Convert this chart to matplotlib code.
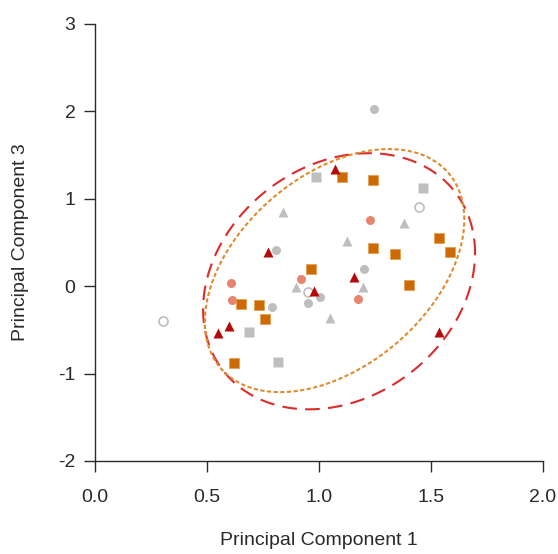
import numpy as np
import matplotlib.pyplot as plt

plt.rcParams['font.family'] = ['Liberation Sans', 'DejaVu Sans']
plt.rcParams['axes.unicode_minus'] = False

# PCA scores (PC1, PC3) by group
grey_circ_x = [1.246, 0.808, 1.201, 1.005, 0.951, 0.790]
grey_circ_y = [2.025, 0.412, 0.195, -0.126, -0.195, -0.240]
grey_sq_x = [0.987, 1.465, 0.688, 0.817]
grey_sq_y = [1.247, 1.121, -0.526, -0.870]
grey_tri_x = [0.839, 1.380, 1.125, 0.898, 1.197, 1.049]
grey_tri_y = [0.847, 0.721, 0.515, -0.011, -0.011, -0.366]
open_x = [0.304, 1.447, 0.951]
open_y = [-0.400, 0.904, -0.069]
salmon_x = [1.228, 0.920, 0.607, 0.612, 1.174]
salmon_y = [0.755, 0.080, 0.034, -0.160, -0.149]
orange_x = [1.103, 1.241, 1.536, 1.585, 1.241, 1.340, 0.965, 1.402, 0.652, 0.732, 0.759, 0.621]
orange_y = [1.247, 1.213, 0.549, 0.389, 0.435, 0.366, 0.195, 0.011, -0.206, -0.217, -0.378, -0.881]
red_x = [1.072, 0.772, 1.157, 0.978, 0.598, 0.549, 1.536]
red_y = [1.339, 0.389, 0.103, -0.057, -0.458, -0.538, -0.526]

# ellipse parameters: centre, half-width, half-height, correlation
red_ell = (1.09, 0.055, 0.607, 1.465, 0.22)
orange_ell = (1.07, 0.177, 0.579, 1.39, 0.42)


def ellipse(cx, cy, sx, sy, rho, n=300):
    t = np.linspace(0, 2 * np.pi, n)
    x = cx + sx * np.cos(t)
    y = cy + sy * (rho * np.cos(t) + np.sqrt(1 - rho ** 2) * np.sin(t))
    return x, y


grey = '#BEBEBE'
txt = '#2a2a2a'
fig = plt.figure(figsize=(5.58, 5.54), dpi=100)
ax = fig.add_axes([0.170, 0.168, 0.803, 0.789])

ax.plot(grey_circ_x, grey_circ_y, 'o', color=grey, ms=6.5, mec='none')
ax.plot(grey_sq_x, grey_sq_y, 's', color=grey, ms=6.5, mec='none')
ax.plot(grey_tri_x, grey_tri_y, '^', color=grey, ms=7.5, mec='none')
ax.plot(open_x, open_y, 'o', mfc='white', mec=grey, ms=6.5, mew=1.2)
ax.plot(salmon_x, salmon_y, 'o', color='#E8846E', ms=6.5, mec='none')
ax.plot(orange_x, orange_y, 's', color='#CC6A08', ms=6.5, mec='#E7A050', mew=0.6)
ax.plot(red_x, red_y, '^', color='#B40A0A', ms=7.5, mec='none')

ex, ey = ellipse(*red_ell)
ax.plot(ex, ey, color='#DC2B2B', lw=1.5, dashes=(7, 4))
ex, ey = ellipse(*orange_ell)
ax.plot(ex, ey, color='#E08A2E', lw=1.5, dashes=(2, 1.2))

ax.set_xlim(0, 2)
ax.set_ylim(-2, 3)
ax.set_xticks([0.0, 0.5, 1.0, 1.5, 2.0])
ax.set_xticklabels(['0.0', '0.5', '1.0', '1.5', '2.0'])
ax.set_yticks([-2, -1, 0, 1, 2, 3])
ax.spines['top'].set_visible(False)
ax.spines['right'].set_visible(False)
for s in ['left', 'bottom']:
    ax.spines[s].set_linewidth(1.0)
    ax.spines[s].set_color(txt)
ax.tick_params(direction='out', length=8, width=1.0, labelsize=14,
               colors=txt)
ax.tick_params(axis='x', pad=12)
ax.tick_params(axis='y', pad=6)
ax.set_xlabel('Principal Component 1', fontsize=14, color=txt, va='center')
ax.set_ylabel('Principal Component 3', fontsize=14, color=txt, va='center')
ax.xaxis.set_label_coords(0.5, -0.181)
ax.yaxis.set_label_coords(-0.167, 0.5)

fig.savefig('out.png', dpi=100)
